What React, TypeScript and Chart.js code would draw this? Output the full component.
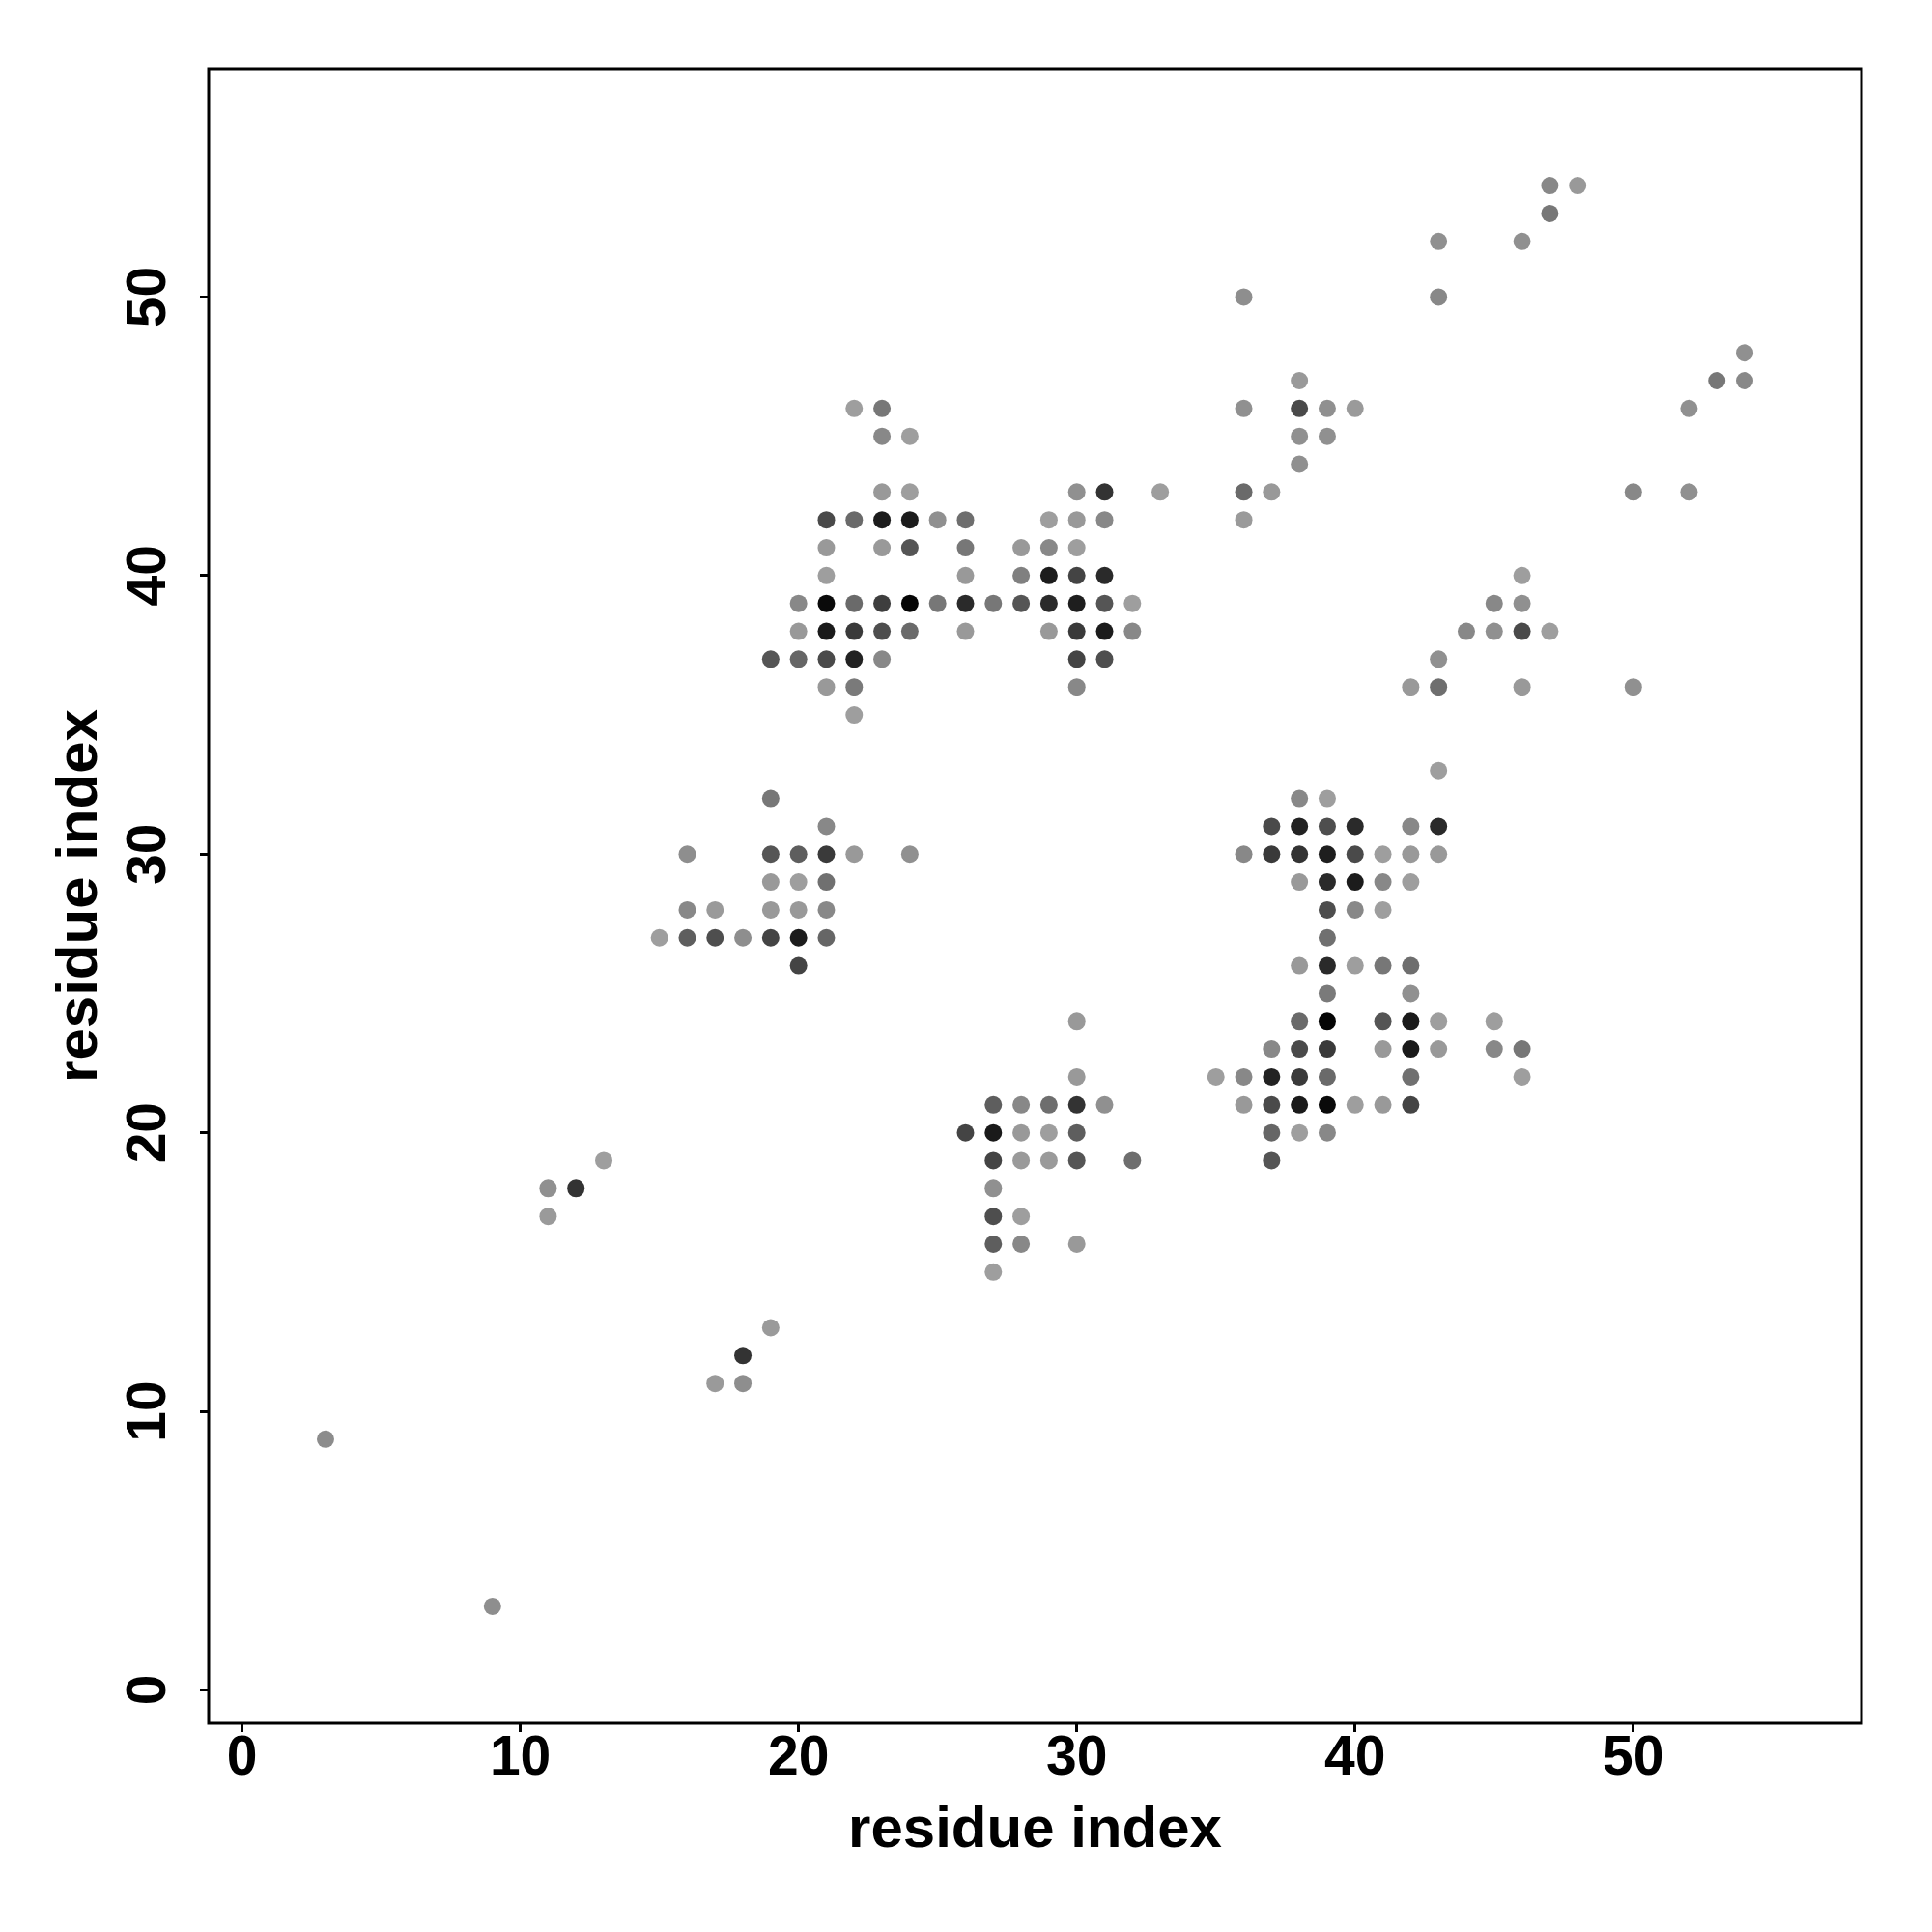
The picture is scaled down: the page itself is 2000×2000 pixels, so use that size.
import React, { useEffect, useRef } from "react";
import { Chart, registerables } from "chart.js";

Chart.register(...registerables);

// Contact map: each row holds the residue index on the y axis, the partner
// residues (x) and the grey level of each contact (0 = black, 255 = white).
const rowY = [54, 53, 52, 50, 48, 47, 46, 45, 44, 43, 42, 41, 40, 39, 38, 37, 36, 35, 33, 32, 31, 30, 29, 28, 27, 26, 25, 24, 23, 22, 21, 20, 19, 18, 17, 16, 15, 13, 12, 11, 9, 3];

const rowX = [
  [47, 48],
  [47],
  [43, 46],
  [36, 43],
  [54],
  [38, 53, 54],
  [22, 23, 36, 38, 39, 40, 52],
  [23, 24, 38, 39],
  [38],
  [23, 24, 30, 31, 33, 36, 37, 50, 52],
  [21, 22, 23, 24, 25, 26, 29, 30, 31, 36],
  [21, 23, 24, 26, 28, 29, 30],
  [21, 26, 28, 29, 30, 31, 46],
  [20, 21, 22, 23, 24, 25, 26, 27, 28, 29, 30, 31, 32, 45, 46],
  [20, 21, 22, 23, 24, 26, 29, 30, 31, 32, 44, 45, 46, 47],
  [19, 20, 21, 22, 23, 30, 31, 43],
  [21, 22, 30, 42, 43, 46, 50],
  [22],
  [43],
  [19, 38, 39],
  [21, 37, 38, 39, 40, 42, 43],
  [16, 19, 20, 21, 22, 24, 36, 37, 38, 39, 40, 41, 42, 43],
  [19, 20, 21, 38, 39, 40, 41, 42],
  [16, 17, 19, 20, 21, 39, 40, 41],
  [15, 16, 17, 18, 19, 20, 21, 39],
  [20, 38, 39, 40, 41, 42],
  [39, 42],
  [30, 38, 39, 41, 42, 43, 45],
  [37, 38, 39, 41, 42, 43, 45, 46],
  [30, 35, 36, 37, 38, 39, 42, 46],
  [27, 28, 29, 30, 31, 36, 37, 38, 39, 40, 41, 42],
  [26, 27, 28, 29, 30, 37, 38, 39],
  [13, 27, 28, 29, 30, 32, 37],
  [11, 12, 27],
  [11, 27, 28],
  [27, 28, 30],
  [27],
  [19],
  [18],
  [17, 18],
  [3],
  [9],
];

const rowShade = [
  [136, 153],
  [119],
  [144, 144],
  [142, 136],
  [144],
  [153, 119, 136],
  [158, 119, 144, 74, 144, 154, 144],
  [136, 158, 144, 144],
  [144],
  [153, 158, 144, 51, 158, 106, 153, 136, 144],
  [74, 106, 28, 28, 144, 110, 158, 153, 136, 154],
  [153, 153, 85, 119, 153, 136, 158],
  [158, 153, 128, 28, 68, 42, 158],
  [136, 10, 106, 62, 5, 119, 42, 119, 85, 42, 30, 85, 158, 136, 144],
  [153, 26, 58, 78, 106, 153, 153, 58, 28, 136, 136, 144, 74, 158],
  [85, 102, 74, 34, 136, 68, 78, 144],
  [153, 122, 136, 153, 110, 153, 144],
  [158],
  [158],
  [119, 136, 158],
  [136, 74, 34, 78, 42, 136, 42],
  [142, 85, 94, 58, 153, 144, 136, 58, 51, 30, 74, 158, 153, 153],
  [153, 158, 112, 153, 42, 28, 136, 158],
  [136, 154, 153, 153, 136, 78, 136, 158],
  [158, 94, 78, 142, 68, 28, 102, 112],
  [68, 153, 42, 158, 119, 110],
  [122, 144],
  [153, 106, 5, 85, 26, 158, 158],
  [136, 74, 58, 153, 26, 153, 136, 119],
  [153, 158, 136, 34, 58, 106, 112, 158],
  [94, 136, 110, 51, 144, 153, 74, 26, 10, 158, 153, 68],
  [68, 26, 153, 158, 94, 102, 158, 136],
  [158, 68, 154, 154, 85, 110, 85],
  [144, 51, 144],
  [154, 78, 158],
  [94, 136, 153],
  [158],
  [154],
  [51],
  [154, 142],
  [140],
  [142],
];

const tickValues = [0, 10, 20, 30, 40, 50];
const axisMin = -1.2;
const axisMax = 58.2;
const xTitle = "residue index";
const yTitle = "residue index";

const FONT = '"Liberation Sans", Arial, Helvetica, sans-serif';

const framePlugin = {
  id: "rFrame",
  afterDraw(chart: any) {
    const { ctx, chartArea: a, scales } = chart;
    ctx.save();
    ctx.strokeStyle = "#000";
    ctx.lineWidth = 3;
    ctx.strokeRect(a.left, a.top, a.right - a.left, a.bottom - a.top);

    ctx.fillStyle = "#000";
    ctx.textAlign = "center";
    ctx.textBaseline = "alphabetic";
    ctx.font = `bold 57px ${FONT}`;
    const ys = scales.y;
    ys.ticks.forEach((t: any) => {
      const p = ys.getPixelForValue(t.value);
      ctx.save();
      ctx.translate(a.left - 45, p);
      ctx.rotate(-Math.PI / 2);
      ctx.fillText(String(t.value), 0, 0);
      ctx.restore();
    });

    ctx.font = `bold 60px ${FONT}`;
    ctx.fillText(xTitle, (a.left + a.right) / 2, a.bottom + 128);
    ctx.save();
    ctx.translate(a.left - 116, (a.top + a.bottom) / 2);
    ctx.rotate(-Math.PI / 2);
    ctx.fillText(yTitle, 0, 0);
    ctx.restore();
    ctx.restore();
  },
};

export default function App() {
  const ref = useRef<HTMLCanvasElement>(null);

  useEffect(() => {
    if (!ref.current) return;
    const points: { x: number; y: number }[] = [];
    const colors: string[] = [];
    rowY.forEach((y, r) => {
      rowX[r].forEach((x, k) => {
        points.push({ x, y });
        const g = rowShade[r][k];
        colors.push(`rgb(${g},${g},${g})`);
      });
    });

    const chart = new Chart(ref.current, {
      type: "scatter",
      data: {
        datasets: [
          {
            data: points,
            backgroundColor: colors,
            borderWidth: 0,
            pointRadius: 9,
            pointHoverRadius: 9,
            pointStyle: "circle",
          },
        ],
      },
      plugins: [framePlugin],
      options: {
        responsive: false,
        devicePixelRatio: 1,
        animation: false,
        events: [],
        layout: { padding: { left: 0, top: 71, right: 73, bottom: 0 } },
        plugins: {
          legend: { display: false },
          tooltip: { enabled: false },
          title: { display: false },
        },
        scales: {
          x: {
            type: "linear",
            position: "bottom",
            min: axisMin,
            max: axisMax,
            afterBuildTicks: (s: any) => {
              s.ticks = tickValues.map((v) => ({ value: v }));
            },
            afterFit: (s: any) => {
              s.height = 216;
            },
            ticks: {
              autoSkip: false,
              maxRotation: 0,
              minRotation: 0,
              padding: 0,
              color: "#000",
              font: { family: FONT, weight: "bold", size: 57, lineHeight: 1 },
            },
            grid: {
              drawOnChartArea: false,
              drawTicks: true,
              tickLength: 9,
              tickWidth: 3,
              tickColor: "#000",
              color: "#000",
            },
            border: { display: false },
          },
          y: {
            type: "linear",
            position: "left",
            min: axisMin,
            max: axisMax,
            afterBuildTicks: (s: any) => {
              s.ticks = tickValues.map((v) => ({ value: v }));
            },
            afterFit: (s: any) => {
              s.width = 216;
            },
            ticks: { display: false },
            grid: {
              drawOnChartArea: false,
              drawTicks: true,
              tickLength: 9,
              tickWidth: 3,
              tickColor: "#000",
              color: "#000",
            },
            border: { display: false },
          },
        },
      } as any,
    });
    return () => chart.destroy();
  }, []);

  return (
    <div style={{ position: "absolute", left: 0, top: 0, width: 2000, height: 2000, background: "#fff" }}>
      <canvas ref={ref} width={2000} height={2000} style={{ display: "block", width: 2000, height: 2000 }} />
    </div>
  );
}
